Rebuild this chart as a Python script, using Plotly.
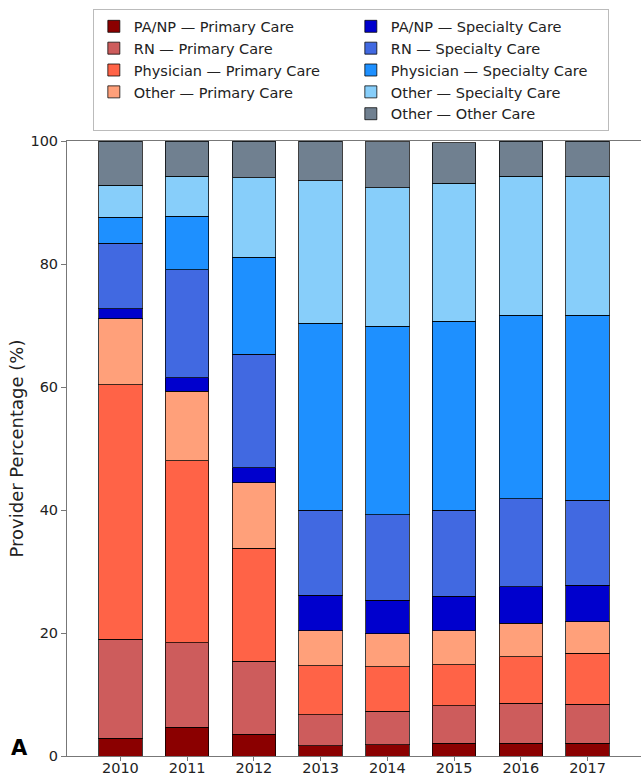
import plotly.graph_objects as go

years = ["2010", "2011", "2012", "2013", "2014", "2015", "2016", "2017"]

panp_primary      = [2.9, 4.7, 3.5, 1.7, 1.8, 2.1, 2.1, 2.1]
rn_primary        = [16.1, 13.7, 11.9, 5.0, 5.5, 6.1, 6.5, 6.3]
physician_primary = [41.4, 29.6, 18.4, 8.0, 7.2, 6.6, 7.5, 8.3]
other_primary     = [10.7, 11.3, 10.6, 5.7, 5.4, 5.6, 5.5, 5.1]
panp_specialty    = [1.6, 2.2, 2.5, 5.7, 5.4, 5.6, 5.9, 6.0]
rn_specialty      = [10.7, 17.6, 18.4, 13.9, 13.9, 14.0, 14.3, 13.8]
physician_specialty = [4.2, 8.7, 15.8, 30.4, 30.7, 30.7, 29.9, 30.1]
other_specialty   = [5.2, 6.5, 12.9, 23.1, 22.5, 22.4, 22.6, 22.6]
other_other       = [7.2, 5.7, 6.0, 6.5, 7.5, 6.6, 5.7, 5.7]

series = [
    ("PA/NP — Primary Care", panp_primary, "#8B0000", 1),
    ("RN — Primary Care", rn_primary, "#CD5C5C", 3),
    ("Physician — Primary Care", physician_primary, "#FF6347", 5),
    ("Other — Primary Care", other_primary, "#FFA07A", 7),
    ("PA/NP — Specialty Care", panp_specialty, "#0000CD", 2),
    ("RN — Specialty Care", rn_specialty, "#4169E1", 4),
    ("Physician — Specialty Care", physician_specialty, "#1E90FF", 6),
    ("Other — Specialty Care", other_specialty, "#87CEFA", 8),
    ("Other — Other Care", other_other, "#708090", 10),
]

fig = go.Figure()
for name, vals, color, rank in series:
    fig.add_trace(go.Bar(
        x=years, y=vals, name=name, legendrank=rank,
        width=0.65,
        marker=dict(color=color, line=dict(color="rgba(0,0,0,0.75)", width=1)),
    ))

# invisible spacer entry so that the last legend item sits in the second column
fig.add_trace(go.Bar(x=[years[0]], y=[0], name=" ", legendrank=9, hoverinfo="skip",
                     visible="legendonly",
                     marker=dict(color="rgba(0,0,0,0)", line=dict(width=0))))

FONT = "DejaVu Sans, Verdana, sans-serif"

fig.update_layout(
    width=641, height=776,
    margin=dict(l=67, r=0, t=141, b=20, autoexpand=False),
    barmode="stack",
    plot_bgcolor="white", paper_bgcolor="white",
    font=dict(family=FONT, size=14, color="#222"),
    showlegend=True,
    legend=dict(
        orientation="h", traceorder="normal",
        x=0.045, xanchor="left", y=1.214, yanchor="top",
        entrywidth=212, entrywidthmode="pixels",
        bgcolor="white", bordercolor="#bbb", borderwidth=1,
        font=dict(family=FONT, size=14.5, color="#222"),
    ),
    xaxis=dict(
        range=[-0.8, 7.8], type="category",
        showline=True, linecolor="#777", linewidth=1, mirror=True,
        ticks="outside", ticklen=4, tickcolor="#777",
        ticklabelstandoff=-5,
        tickfont=dict(family=FONT, size=14.5, color="#222"),
        showgrid=False, automargin=False,
    ),
    yaxis=dict(
        range=[0, 100], tickvals=[0, 20, 40, 60, 80, 100],
        showline=True, linecolor="#777", linewidth=1,
        ticks="outside", ticklen=5, tickcolor="#777",
        tickfont=dict(family=FONT, size=14.5, color="#222"),
        showgrid=False, zeroline=False, automargin=False,
        title=dict(text="Provider Percentage (%)", standoff=2,
                   font=dict(family=FONT, size=18, color="#222")),
    ),
    annotations=[dict(
        text="<b>A</b>", xref="paper", yref="paper",
        x=-0.082, y=0.013, xanchor="center", yanchor="middle",
        showarrow=False, font=dict(family=FONT, size=21, color="black"),
    )],
)

fig.write_html(
    "out.html",
    config={"displayModeBar": False},
    post_script="document.body.style.margin='0';document.body.style.overflow='hidden';",
)
